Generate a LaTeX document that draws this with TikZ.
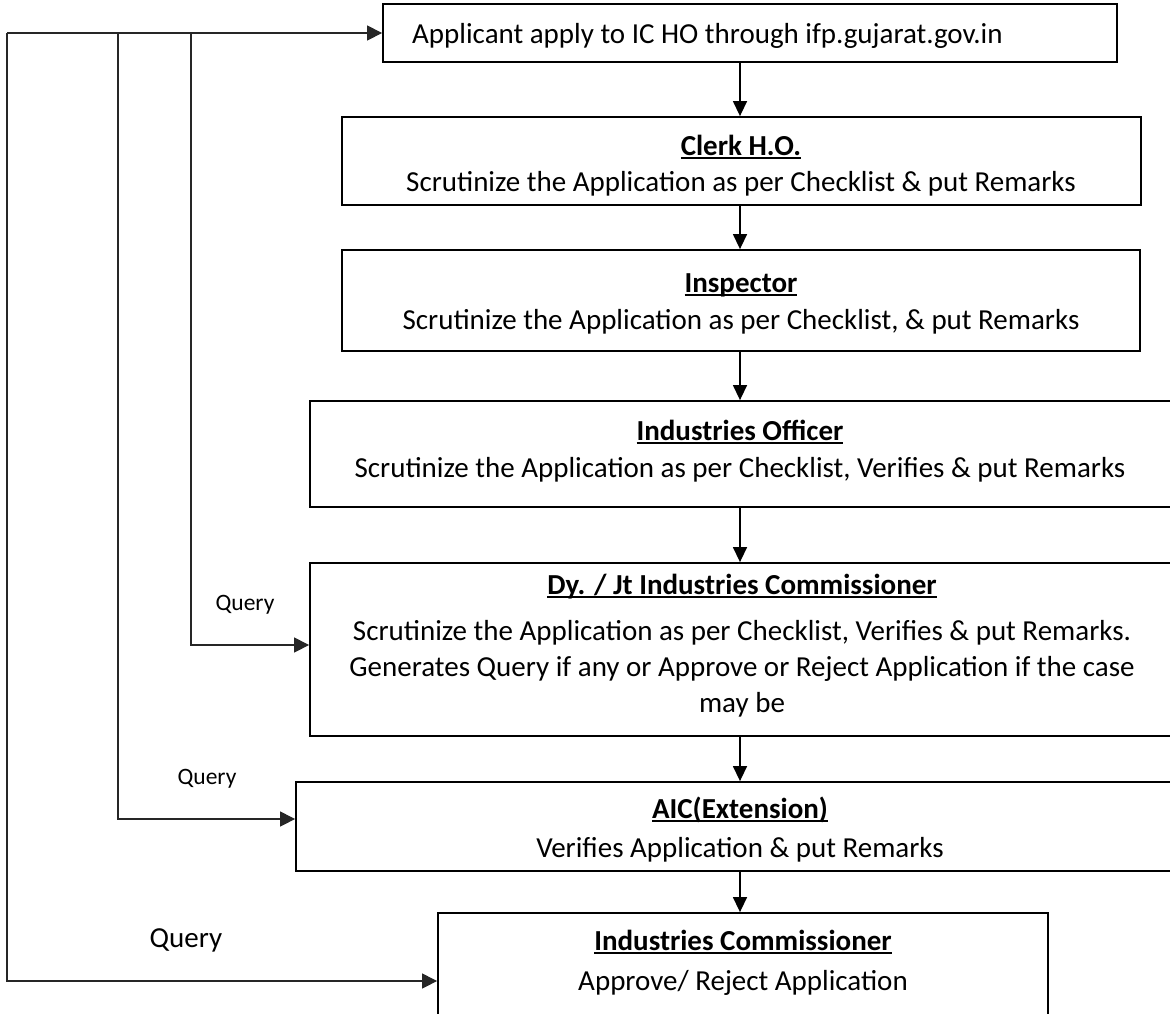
\documentclass[tikz,border=0pt]{standalone}
\usepackage{fontspec}
\setmainfont{Carlito}
\usetikzlibrary{arrows.meta}
\newcommand{\hdl}[1]{\setbox0\hbox{\bfseries #1}\rlap{\rule[-4pt]{\wd0}{1.9pt}}\box0}
\begin{document}
\begin{tikzpicture}[x=1pt,y=-1pt,
  box/.style={draw=black,line width=1.8pt,rectangle,inner sep=0pt,fill=none},
  txt/.style={inner sep=0pt,anchor=base,font=\fontsize{29}{35}\selectfont},
  qtxt/.style={inner sep=0pt,anchor=base,font=\fontsize{23.5}{28}\selectfont},
  conn/.style={draw=black!85,line width=1.2pt},
  arr/.style={draw=black,line width=1.4pt,-{Triangle[length=15pt,width=14pt]}}]
\clip (0,0) rectangle (1170,1013);
\fill[white] (0,0) rectangle (1170,1013);
% boxes
\node[box,minimum width=734pt,minimum height=58pt] (app) at (750,33) {};
\node[box,minimum width=799pt,minimum height=88pt] (clerk) at (741.5,161) {};
\node[box,minimum width=798pt,minimum height=101pt] (insp) at (741,300.5) {};
\node[box,minimum width=870pt,minimum height=106pt] (io) at (745,454) {};
\node[box,minimum width=870pt,minimum height=173pt] (dy) at (745,649.5) {};
\node[box,minimum width=884pt,minimum height=89pt] (aic) at (738,826.5) {};
\node[box,minimum width=610pt,minimum height=117pt] (ic) at (743,971.5) {};
% texts
\node[txt,anchor=base west] (tapp) at (412,43) {Applicant apply to IC HO through ifp.gujarat.gov.in};
\node[txt] (tclerk1) at (741,155) {\hdl{Clerk H.O.}};
\node[txt] (tclerk2) at (741,191) {Scrutinize the Application as per Checklist \& put Remarks};
\node[txt] (tinsp1) at (741,292) {\hdl{Inspector}};
\node[txt] (tinsp2) at (741,329) {Scrutinize the Application as per Checklist, \& put Remarks};
\node[txt] (tio1) at (740,440) {\hdl{Industries Officer}};
\node[txt] (tio2) at (740,477) {Scrutinize the Application as per Checklist, Verifies \& put Remarks};
\node[txt] (tdy1) at (742,594) {\hdl{Dy. / Jt Industries Commissioner}};
\node[txt] (tdy2) at (742,640) {Scrutinize the Application as per Checklist, Verifies \& put Remarks.};
\node[txt] (tdy3) at (742,676) {Generates Query if any or Approve or Reject Application if the case};
\node[txt] (tdy4) at (742,712) {may be};
\node[txt] (taic1) at (740,818) {\hdl{AIC(Extension)}};
\node[txt] (taic2) at (740,857) {Verifies Application \& put Remarks};
\node[txt] (tic1) at (743,950) {\hdl{Industries Commissioner}};
\node[txt] (tic2) at (743,990) {Approve/ Reject Application};
% query labels
\node[qtxt] (qa) at (245,610) {Query};
\node[qtxt] (qb) at (207,784) {Query};
\node[txt] (qc) at (186,947) {Query};
% vertical flow arrows
\coordinate (ax) at (740,0);
\draw[arr] (app.south -| ax) -- (clerk.north -| ax);
\draw[arr] (clerk.south -| ax) -- (insp.north -| ax);
\draw[arr] (insp.south -| ax) -- (io.north -| ax);
\draw[arr] (io.south -| ax) -- (dy.north -| ax);
\draw[arr] (dy.south -| ax) -- (aic.north -| ax);
\draw[arr] (aic.south -| ax) -- (ic.north -| ax);
% query feedback lines
\coordinate (q0) at (7,33);
\coordinate (q1) at (118,33);
\coordinate (q2) at (191,33);
\draw[conn,-{Triangle[length=15pt,width=15pt]}] (q0) -- (app.west);
\draw[conn,-{Triangle[length=15pt,width=15pt]}] (q2) |- ([yshift=4.5pt]dy.west);
\draw[conn,-{Triangle[length=15pt,width=15pt]}] (q1) |- ([yshift=7.5pt]aic.west);
\draw[conn,-{Triangle[length=15pt,width=15pt]}] (q0) |- ([yshift=-9.5pt]ic.west);
\end{tikzpicture}
\end{document}
